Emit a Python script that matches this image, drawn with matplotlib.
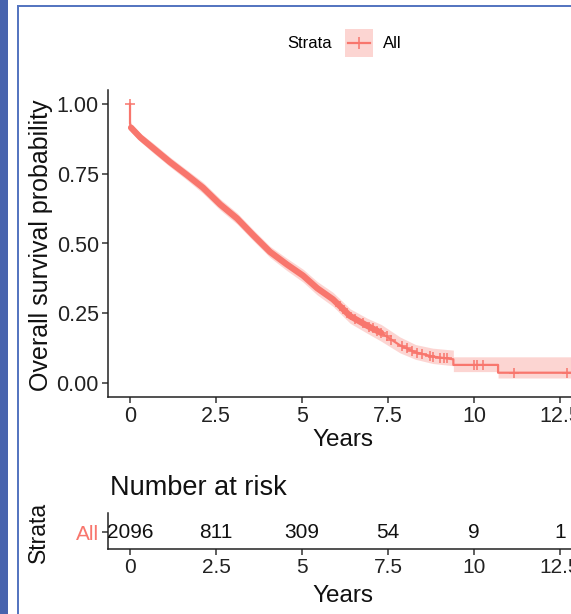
import numpy as np
import matplotlib
matplotlib.use("Agg")
import matplotlib.pyplot as plt
from matplotlib.patches import Rectangle

plt.rcParams['font.family'] = ['Liberation Sans', 'DejaVu Sans']

# survival curve (repeated times = visible steps)
times = [0.0, 0.0, 0.03, 0.3, 0.67, 1.16, 1.66, 2.12, 2.62, 3.11, 3.58, 4.07,
         4.56, 5.03, 5.44, 5.9, 6.4, 6.9, 7.3, 7.85, 8.3, 8.8, 9.4, 9.4,
         10.7, 10.7, 12.9]
surv = [1.0, 0.93, 0.915, 0.88, 0.842, 0.792, 0.745, 0.70, 0.64, 0.59, 0.53,
        0.47, 0.425, 0.385, 0.34, 0.30, 0.24, 0.205, 0.18, 0.135, 0.11, 0.095,
        0.085, 0.065, 0.065, 0.037, 0.037]
lower = [1.0, 0.91, 0.90, 0.865, 0.825, 0.775, 0.727, 0.68, 0.62, 0.57, 0.51,
         0.45, 0.403, 0.362, 0.316, 0.275, 0.214, 0.178, 0.15, 0.108, 0.085,
         0.07, 0.062, 0.041, 0.041, 0.018, 0.018]
upper = [1.0, 0.95, 0.93, 0.895, 0.86, 0.81, 0.763, 0.72, 0.66, 0.61, 0.55,
         0.49, 0.447, 0.408, 0.364, 0.325, 0.266, 0.232, 0.21, 0.165, 0.138,
         0.125, 0.118, 0.094, 0.094, 0.094, 0.094]
dense_until = 7.3   # censoring is so dense up to here that the curve looks thick

censor_times = [0.0, 6.1, 6.3, 6.55, 6.77, 6.95, 7.05, 7.17, 7.3, 7.46, 7.6,
                7.9, 8.04, 8.2, 8.33, 8.5, 8.72, 8.81, 9.01, 9.12, 9.21, 10.0,
                10.1, 10.25, 11.15, 12.7]

risk_times = [0, 2.5, 5, 7.5, 10, 12.5]
risk_counts = [2096, 811, 309, 54, 9, 1]
xticks = [0, 2.5, 5, 7.5, 10, 12.5]
xticklabels = ['0', '2.5', '5', '7.5', '10', '12.5']
yticks = [0, 0.25, 0.5, 0.75, 1.0]
yticklabels = ['0.00', '0.25', '0.50', '0.75', '1.00']

red = '#F8766D'
W, H = 571, 614


def px(l, t, r, b):
    return [l / W, 1 - b / H, (r - l) / W, (b - t) / H]


fig = plt.figure(figsize=(W / 100, H / 100), dpi=100)

# blue frame on the left / top
fig.add_artist(Rectangle((0, 0), 8 / W, 1, transform=fig.transFigure,
                         color='#4763AD', lw=0))
fig.add_artist(Rectangle((17 / W, 0), 2 / W, 1 - 5 / H, transform=fig.transFigure,
                         color='#5676C0', lw=0))
fig.add_artist(Rectangle((17 / W, 1 - 7 / H), 1, 2 / H, transform=fig.transFigure,
                         color='#5676C0', lw=0))

t = np.array(times)
s = np.array(surv)

ax = fig.add_axes(px(108, 90, 571, 397))
ax.fill_between(t, lower, upper, color=red, alpha=0.3, lw=0)
ax.plot(t, s, color=red, lw=1.6)
m = t <= dense_until
ax.plot(t[m][2:], s[m][2:], color=red, lw=4.5, solid_capstyle='round')

# censoring marks sit on the curve
ct = np.array(censor_times)
cy = np.where(ct == 0, s[0], np.interp(ct, t[1:], s[1:]))
ax.plot(ct, cy, ls='none', marker='+', ms=7, mew=1.1, color=red)

ax.set_xlim(-0.64, 12.82)
ax.set_ylim(-0.05, 1.05)
ax.set_xticks(xticks)
ax.set_xticklabels(xticklabels)
ax.set_yticks(yticks)
ax.set_yticklabels(yticklabels)
for sp in ['top', 'right']:
    ax.spines[sp].set_visible(False)
for sp in ['left', 'bottom']:
    ax.spines[sp].set_linewidth(1.1)
    ax.spines[sp].set_color('#222222')
ax.tick_params(labelsize=15.5, length=4, width=1.1, color='#333333', pad=2.5,
               labelcolor='#222222')

fig.text(41 / W, 1 - 245 / H, 'Overall survival probability', rotation=90,
         ha='center', va='center', fontsize=18, color='#111111')
fig.text(343 / W, 1 - 440 / H, 'Years', ha='center', va='center',
         fontsize=17.5, color='#111111')

# legend at the top
fig.text(310 / W, 1 - 44 / H, 'Strata', ha='center', va='center', fontsize=12)
fig.text(383 / W, 1 - 44 / H, 'All', ha='left', va='center', fontsize=12)
lax = fig.add_axes(px(345, 29, 373, 57))
lax.set_xlim(0, 1)
lax.set_ylim(0, 1)
lax.add_patch(Rectangle((0, 0), 1, 1, color=red, alpha=0.3, lw=0))
lax.plot([0.1, 0.9], [0.5, 0.5], color=red, lw=1.6)
lax.plot([0.5], [0.5], marker='+', ms=9, mew=1.1, color=red)
lax.axis('off')

# number at risk table
ax2 = fig.add_axes(px(108, 513, 571, 549))
ax2.set_xlim(-0.64, 12.82)
ax2.set_ylim(0.53, 1.53)
for x, n in zip(risk_times, risk_counts):
    ax2.text(x, 1, str(n), ha='center', va='center', fontsize=15, color='#111111')
ax2.set_xticks(xticks)
ax2.set_xticklabels(xticklabels)
ax2.set_yticks([1])
ax2.set_yticklabels(['All'])
for sp in ['top', 'right']:
    ax2.spines[sp].set_visible(False)
for sp in ['left', 'bottom']:
    ax2.spines[sp].set_linewidth(1.1)
    ax2.spines[sp].set_color('#222222')
ax2.tick_params(labelsize=15, length=4, width=1.1, color='#333333', pad=2.5,
                labelcolor='#222222')
ax2.tick_params(axis='y', labelcolor=red)

fig.text(110 / W, 1 - 488 / H, 'Number at risk', ha='left', va='center',
         fontsize=19.5, color='#111111')
fig.text(38 / W, 1 - 532 / H, 'Strata', rotation=90, ha='center', va='center',
         fontsize=16.5, color='#111111')
fig.text(343 / W, 1 - 596 / H, 'Years', ha='center', va='center',
         fontsize=17.5, color='#111111')

fig.savefig('out.png', dpi=100)
